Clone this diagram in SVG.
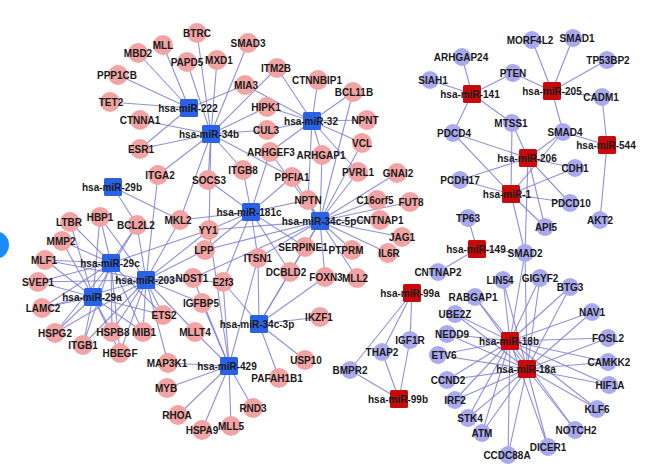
<svg xmlns="http://www.w3.org/2000/svg" width="645" height="470" viewBox="0 0 645 470">
<style>
.e line{stroke:#7c7cd6;stroke-width:1.1;stroke-opacity:.85}
.p circle{fill:#f2a3a3}
.v circle{fill:#a9a9f0}
.b rect{fill:#2a62e6}
.r rect{fill:#c80a0a}
text{font-family:"Liberation Sans",Arial,sans-serif;font-size:10px;font-weight:bold;fill:#1a1a1a;text-anchor:middle}
</style>
<rect width="645" height="470" fill="#fff"/>
<circle cx="-5" cy="245" r="14" fill="#1a8cff"/>
<g id="connectors" class="e">
<line x1="189" y1="108" x2="163" y2="45"/><line x1="189" y1="108" x2="138" y2="53"/><line x1="189" y1="108" x2="118" y2="75"/><line x1="189" y1="108" x2="110" y2="102"/><line x1="189" y1="108" x2="140" y2="149"/><line x1="189" y1="108" x2="245" y2="85"/>
<line x1="211" y1="134" x2="197" y2="33"/><line x1="211" y1="134" x2="187" y2="62"/><line x1="211" y1="134" x2="217" y2="60"/><line x1="211" y1="134" x2="248" y2="43"/><line x1="211" y1="134" x2="277" y2="68"/><line x1="211" y1="134" x2="267" y2="107"/><line x1="211" y1="134" x2="267" y2="130"/><line x1="211" y1="134" x2="140" y2="120"/><line x1="211" y1="134" x2="140" y2="149"/><line x1="211" y1="134" x2="158" y2="175"/><line x1="211" y1="134" x2="208" y2="180"/><line x1="211" y1="134" x2="243" y2="170"/><line x1="211" y1="134" x2="292" y2="177"/><line x1="211" y1="134" x2="209" y2="230"/><line x1="211" y1="134" x2="180" y2="220"/>
<line x1="312" y1="121" x2="318" y2="80"/><line x1="312" y1="121" x2="353" y2="92"/><line x1="312" y1="121" x2="367" y2="120"/><line x1="312" y1="121" x2="362" y2="143"/><line x1="312" y1="121" x2="267" y2="107"/><line x1="312" y1="121" x2="267" y2="130"/><line x1="312" y1="121" x2="277" y2="68"/><line x1="312" y1="121" x2="245" y2="85"/><line x1="312" y1="121" x2="322" y2="155"/><line x1="312" y1="121" x2="270" y2="152"/><line x1="312" y1="121" x2="358" y2="172"/><line x1="312" y1="121" x2="308" y2="200"/>
<line x1="251" y1="212" x2="243" y2="170"/><line x1="251" y1="212" x2="270" y2="152"/><line x1="251" y1="212" x2="292" y2="177"/><line x1="251" y1="212" x2="308" y2="200"/><line x1="251" y1="212" x2="208" y2="180"/><line x1="251" y1="212" x2="209" y2="230"/><line x1="251" y1="212" x2="205" y2="250"/><line x1="251" y1="212" x2="258" y2="258"/><line x1="251" y1="212" x2="290" y2="272"/><line x1="251" y1="212" x2="305" y2="247"/><line x1="251" y1="212" x2="223" y2="282"/><line x1="251" y1="212" x2="180" y2="220"/>
<line x1="320" y1="221" x2="322" y2="155"/><line x1="320" y1="221" x2="362" y2="143"/><line x1="320" y1="221" x2="353" y2="92"/><line x1="320" y1="221" x2="358" y2="172"/><line x1="320" y1="221" x2="397" y2="173"/><line x1="320" y1="221" x2="377" y2="200"/><line x1="320" y1="221" x2="410" y2="202"/><line x1="320" y1="221" x2="380" y2="220"/><line x1="320" y1="221" x2="402" y2="237"/><line x1="320" y1="221" x2="388" y2="253"/><line x1="320" y1="221" x2="352" y2="250"/><line x1="320" y1="221" x2="357" y2="278"/><line x1="320" y1="221" x2="325" y2="277"/><line x1="320" y1="221" x2="305" y2="247"/><line x1="320" y1="221" x2="290" y2="272"/><line x1="320" y1="221" x2="258" y2="258"/><line x1="320" y1="221" x2="308" y2="200"/><line x1="320" y1="221" x2="292" y2="177"/><line x1="320" y1="221" x2="270" y2="152"/><line x1="320" y1="221" x2="209" y2="230"/><line x1="320" y1="221" x2="193" y2="278"/><line x1="320" y1="221" x2="205" y2="250"/>
<line x1="259" y1="324" x2="320" y2="317"/><line x1="259" y1="324" x2="305" y2="360"/><line x1="259" y1="324" x2="279" y2="378"/><line x1="259" y1="324" x2="223" y2="282"/><line x1="259" y1="324" x2="258" y2="258"/><line x1="259" y1="324" x2="290" y2="272"/><line x1="259" y1="324" x2="325" y2="277"/><line x1="259" y1="324" x2="305" y2="247"/>
<line x1="229" y1="366" x2="168" y2="363"/><line x1="229" y1="366" x2="167" y2="388"/><line x1="229" y1="366" x2="178" y2="415"/><line x1="229" y1="366" x2="202" y2="430"/><line x1="229" y1="366" x2="231" y2="426"/><line x1="229" y1="366" x2="253" y2="408"/><line x1="229" y1="366" x2="202" y2="303"/><line x1="229" y1="366" x2="195" y2="332"/><line x1="229" y1="366" x2="223" y2="282"/><line x1="229" y1="366" x2="258" y2="258"/><line x1="229" y1="366" x2="193" y2="278"/><line x1="229" y1="366" x2="209" y2="230"/>
<line x1="146" y1="280" x2="158" y2="175"/><line x1="146" y1="280" x2="137" y2="225"/><line x1="146" y1="280" x2="180" y2="220"/><line x1="146" y1="280" x2="209" y2="230"/><line x1="146" y1="280" x2="205" y2="250"/><line x1="146" y1="280" x2="193" y2="278"/><line x1="146" y1="280" x2="223" y2="282"/><line x1="146" y1="280" x2="202" y2="303"/><line x1="146" y1="280" x2="195" y2="332"/><line x1="146" y1="280" x2="163" y2="315"/><line x1="146" y1="280" x2="168" y2="363"/><line x1="146" y1="280" x2="143" y2="332"/><line x1="146" y1="280" x2="112" y2="332"/><line x1="146" y1="280" x2="120" y2="353"/><line x1="146" y1="280" x2="83" y2="345"/><line x1="146" y1="280" x2="55" y2="333"/><line x1="146" y1="280" x2="42" y2="308"/><line x1="146" y1="280" x2="38" y2="282"/><line x1="146" y1="280" x2="45" y2="260"/><line x1="146" y1="280" x2="100" y2="217"/>
<line x1="111" y1="263" x2="100" y2="217"/><line x1="111" y1="263" x2="70" y2="222"/><line x1="111" y1="263" x2="62" y2="241"/><line x1="111" y1="263" x2="45" y2="260"/><line x1="111" y1="263" x2="38" y2="282"/><line x1="111" y1="263" x2="42" y2="308"/><line x1="111" y1="263" x2="55" y2="333"/><line x1="111" y1="263" x2="83" y2="345"/><line x1="111" y1="263" x2="112" y2="332"/><line x1="111" y1="263" x2="120" y2="353"/><line x1="111" y1="263" x2="143" y2="332"/><line x1="111" y1="263" x2="137" y2="225"/><line x1="111" y1="263" x2="209" y2="230"/><line x1="111" y1="263" x2="163" y2="315"/>
<line x1="93" y1="297" x2="70" y2="222"/><line x1="93" y1="297" x2="62" y2="241"/><line x1="93" y1="297" x2="45" y2="260"/><line x1="93" y1="297" x2="38" y2="282"/><line x1="93" y1="297" x2="42" y2="308"/><line x1="93" y1="297" x2="55" y2="333"/><line x1="93" y1="297" x2="83" y2="345"/><line x1="93" y1="297" x2="112" y2="332"/><line x1="93" y1="297" x2="120" y2="353"/><line x1="93" y1="297" x2="100" y2="217"/><line x1="93" y1="297" x2="137" y2="225"/><line x1="93" y1="297" x2="143" y2="332"/><line x1="93" y1="297" x2="163" y2="315"/>
<line x1="113" y1="187" x2="137" y2="225"/><line x1="113" y1="187" x2="180" y2="220"/>
<line x1="472" y1="94" x2="462" y2="57"/><line x1="472" y1="94" x2="430" y2="80"/><line x1="472" y1="94" x2="513" y2="73"/><line x1="472" y1="94" x2="512" y2="123"/><line x1="472" y1="94" x2="453" y2="133"/>
<line x1="552" y1="91" x2="532" y2="40"/><line x1="552" y1="91" x2="573" y2="38"/><line x1="552" y1="91" x2="607" y2="60"/><line x1="552" y1="91" x2="513" y2="73"/><line x1="552" y1="91" x2="602" y2="97"/><line x1="552" y1="91" x2="563" y2="132"/>
<line x1="607" y1="145" x2="602" y2="97"/><line x1="607" y1="145" x2="563" y2="132"/><line x1="607" y1="145" x2="600" y2="220"/>
<line x1="528" y1="158" x2="512" y2="123"/><line x1="528" y1="158" x2="453" y2="133"/><line x1="528" y1="158" x2="563" y2="132"/><line x1="528" y1="158" x2="575" y2="168"/><line x1="528" y1="158" x2="460" y2="180"/><line x1="528" y1="158" x2="570" y2="203"/><line x1="528" y1="158" x2="545" y2="227"/><line x1="528" y1="158" x2="525" y2="253"/>
<line x1="511" y1="194" x2="453" y2="133"/><line x1="511" y1="194" x2="512" y2="123"/><line x1="511" y1="194" x2="563" y2="132"/><line x1="511" y1="194" x2="575" y2="168"/><line x1="511" y1="194" x2="460" y2="180"/><line x1="511" y1="194" x2="570" y2="203"/><line x1="511" y1="194" x2="545" y2="227"/><line x1="511" y1="194" x2="525" y2="253"/>
<line x1="477" y1="249" x2="468" y2="218"/><line x1="477" y1="249" x2="525" y2="253"/><line x1="477" y1="249" x2="438" y2="272"/>
<line x1="412" y1="293" x2="410" y2="340"/><line x1="412" y1="293" x2="382" y2="352"/><line x1="412" y1="293" x2="350" y2="370"/>
<line x1="399" y1="399" x2="410" y2="340"/><line x1="399" y1="399" x2="382" y2="352"/><line x1="399" y1="399" x2="350" y2="370"/>
<line x1="510" y1="341" x2="503" y2="280"/><line x1="510" y1="341" x2="540" y2="278"/><line x1="510" y1="341" x2="570" y2="287"/><line x1="510" y1="341" x2="475" y2="297"/><line x1="510" y1="341" x2="592" y2="312"/><line x1="510" y1="341" x2="455" y2="314"/><line x1="510" y1="341" x2="447" y2="334"/><line x1="510" y1="341" x2="608" y2="338"/><line x1="510" y1="341" x2="438" y2="355"/><line x1="510" y1="341" x2="608" y2="362"/><line x1="510" y1="341" x2="447" y2="380"/><line x1="510" y1="341" x2="609" y2="385"/><line x1="510" y1="341" x2="455" y2="400"/><line x1="510" y1="341" x2="597" y2="409"/><line x1="510" y1="341" x2="468" y2="418"/><line x1="510" y1="341" x2="482" y2="433"/><line x1="510" y1="341" x2="575" y2="430"/><line x1="510" y1="341" x2="548" y2="447"/><line x1="510" y1="341" x2="508" y2="455"/><line x1="510" y1="341" x2="525" y2="253"/>
<line x1="527" y1="369" x2="503" y2="280"/><line x1="527" y1="369" x2="540" y2="278"/><line x1="527" y1="369" x2="570" y2="287"/><line x1="527" y1="369" x2="475" y2="297"/><line x1="527" y1="369" x2="592" y2="312"/><line x1="527" y1="369" x2="455" y2="314"/><line x1="527" y1="369" x2="447" y2="334"/><line x1="527" y1="369" x2="608" y2="338"/><line x1="527" y1="369" x2="438" y2="355"/><line x1="527" y1="369" x2="608" y2="362"/><line x1="527" y1="369" x2="447" y2="380"/><line x1="527" y1="369" x2="609" y2="385"/><line x1="527" y1="369" x2="455" y2="400"/><line x1="527" y1="369" x2="597" y2="409"/><line x1="527" y1="369" x2="468" y2="418"/><line x1="527" y1="369" x2="482" y2="433"/><line x1="527" y1="369" x2="575" y2="430"/><line x1="527" y1="369" x2="548" y2="447"/><line x1="527" y1="369" x2="508" y2="455"/><line x1="527" y1="369" x2="525" y2="253"/>
</g>
<g id="genes-pink" class="p">
<g id="n-BTRC"><circle cx="197" cy="33" r="10"/><text x="197" y="37">BTRC</text></g>
<g id="n-MLL"><circle cx="163" cy="45" r="10"/><text x="163" y="49">MLL</text></g>
<g id="n-MBD2"><circle cx="138" cy="53" r="10"/><text x="138" y="57">MBD2</text></g>
<g id="n-PAPD5"><circle cx="187" cy="62" r="10"/><text x="187" y="66">PAPD5</text></g>
<g id="n-MXD1"><circle cx="217" cy="60" r="10"/><text x="219" y="64">MXD1</text></g>
<g id="n-PPP1CB"><circle cx="118" cy="75" r="10"/><text x="117" y="79">PPP1CB</text></g>
<g id="n-TET2"><circle cx="110" cy="102" r="10"/><text x="111" y="106">TET2</text></g>
<g id="n-CTNNA1"><circle cx="140" cy="120" r="10"/><text x="140" y="124">CTNNA1</text></g>
<g id="n-ESR1"><circle cx="140" cy="149" r="10"/><text x="141" y="153">ESR1</text></g>
<g id="n-SMAD3"><circle cx="248" cy="43" r="10"/><text x="248" y="47">SMAD3</text></g>
<g id="n-ITM2B"><circle cx="277" cy="68" r="10"/><text x="276" y="72">ITM2B</text></g>
<g id="n-MIA3"><circle cx="245" cy="85" r="10"/><text x="246" y="89">MIA3</text></g>
<g id="n-CTNNBIP1"><circle cx="318" cy="80" r="10"/><text x="317" y="84">CTNNBIP1</text></g>
<g id="n-BCL11B"><circle cx="353" cy="92" r="10"/><text x="354" y="96">BCL11B</text></g>
<g id="n-HIPK1"><circle cx="267" cy="107" r="10"/><text x="266" y="111">HIPK1</text></g>
<g id="n-NPNT"><circle cx="367" cy="120" r="10"/><text x="365" y="124">NPNT</text></g>
<g id="n-CUL3"><circle cx="267" cy="130" r="10"/><text x="266" y="134">CUL3</text></g>
<g id="n-VCL"><circle cx="362" cy="143" r="10"/><text x="362" y="147">VCL</text></g>
<g id="n-ARHGEF3"><circle cx="270" cy="152" r="10"/><text x="271" y="156">ARHGEF3</text></g>
<g id="n-ARHGAP1"><circle cx="322" cy="155" r="10"/><text x="321" y="159">ARHGAP1</text></g>
<g id="n-ITGB8"><circle cx="243" cy="170" r="10"/><text x="243" y="174">ITGB8</text></g>
<g id="n-PPFIA1"><circle cx="292" cy="177" r="10"/><text x="292" y="181">PPFIA1</text></g>
<g id="n-NPTN"><circle cx="308" cy="200" r="10"/><text x="308" y="204">NPTN</text></g>
<g id="n-SOCS3"><circle cx="208" cy="180" r="10"/><text x="209" y="184">SOCS3</text></g>
<g id="n-ITGA2"><circle cx="158" cy="175" r="10"/><text x="160" y="179">ITGA2</text></g>
<g id="n-PVRL1"><circle cx="358" cy="172" r="10"/><text x="358" y="176">PVRL1</text></g>
<g id="n-GNAI2"><circle cx="397" cy="173" r="10"/><text x="398" y="177">GNAI2</text></g>
<g id="n-C16orf5"><circle cx="377" cy="200" r="10"/><text x="375" y="204">C16orf5</text></g>
<g id="n-FUT8"><circle cx="410" cy="202" r="10"/><text x="411" y="206">FUT8</text></g>
<g id="n-CNTNAP1"><circle cx="380" cy="220" r="10"/><text x="380" y="224">CNTNAP1</text></g>
<g id="n-JAG1"><circle cx="402" cy="237" r="10"/><text x="402" y="241">JAG1</text></g>
<g id="n-IL6R"><circle cx="388" cy="253" r="10"/><text x="389" y="257">IL6R</text></g>
<g id="n-PTPRM"><circle cx="352" cy="250" r="10"/><text x="346" y="254">PTPRM</text></g>
<g id="n-SERPINE1"><circle cx="305" cy="247" r="10"/><text x="303" y="251">SERPINE1</text></g>
<g id="n-ITSN1"><circle cx="258" cy="258" r="10"/><text x="258" y="262">ITSN1</text></g>
<g id="n-DCBLD2"><circle cx="290" cy="272" r="10"/><text x="286" y="276">DCBLD2</text></g>
<g id="n-FOXN3"><circle cx="325" cy="277" r="10"/><text x="326" y="281">FOXN3</text></g>
<g id="n-MLL2"><circle cx="357" cy="278" r="10"/><text x="355" y="282">MLL2</text></g>
<g id="n-E2f3"><circle cx="223" cy="282" r="10"/><text x="223" y="286">E2f3</text></g>
<g id="n-YY1"><circle cx="209" cy="230" r="10"/><text x="208" y="234">YY1</text></g>
<g id="n-MKL2"><circle cx="180" cy="220" r="10"/><text x="178" y="224">MKL2</text></g>
<g id="n-LPP"><circle cx="205" cy="250" r="10"/><text x="204" y="254">LPP</text></g>
<g id="n-NDST1"><circle cx="193" cy="278" r="10"/><text x="192" y="282">NDST1</text></g>
<g id="n-IGFBP5"><circle cx="202" cy="303" r="10"/><text x="201" y="307">IGFBP5</text></g>
<g id="n-BCL2L2"><circle cx="137" cy="225" r="10"/><text x="136" y="229">BCL2L2</text></g>
<g id="n-HBP1"><circle cx="100" cy="217" r="10"/><text x="100" y="221">HBP1</text></g>
<g id="n-LTBR"><circle cx="70" cy="222" r="10"/><text x="69" y="226">LTBR</text></g>
<g id="n-MMP2"><circle cx="62" cy="241" r="10"/><text x="61" y="245">MMP2</text></g>
<g id="n-MLF1"><circle cx="45" cy="260" r="10"/><text x="44" y="264">MLF1</text></g>
<g id="n-SVEP1"><circle cx="38" cy="282" r="10"/><text x="38" y="286">SVEP1</text></g>
<g id="n-LAMC2"><circle cx="42" cy="308" r="10"/><text x="43" y="312">LAMC2</text></g>
<g id="n-HSPG2"><circle cx="55" cy="333" r="10"/><text x="55" y="337">HSPG2</text></g>
<g id="n-ITGB1"><circle cx="83" cy="345" r="10"/><text x="83" y="349">ITGB1</text></g>
<g id="n-HSPB8"><circle cx="112" cy="332" r="10"/><text x="113" y="336">HSPB8</text></g>
<g id="n-MIB1"><circle cx="143" cy="332" r="10"/><text x="144" y="336">MIB1</text></g>
<g id="n-HBEGF"><circle cx="120" cy="353" r="10"/><text x="120" y="357">HBEGF</text></g>
<g id="n-ETS2"><circle cx="163" cy="315" r="10"/><text x="164" y="319">ETS2</text></g>
<g id="n-MLLT4"><circle cx="195" cy="332" r="10"/><text x="195" y="336">MLLT4</text></g>
<g id="n-MAP3K1"><circle cx="168" cy="363" r="10"/><text x="167" y="367">MAP3K1</text></g>
<g id="n-MYB"><circle cx="167" cy="388" r="10"/><text x="166" y="392">MYB</text></g>
<g id="n-RHOA"><circle cx="178" cy="415" r="10"/><text x="177" y="419">RHOA</text></g>
<g id="n-HSPA9"><circle cx="202" cy="430" r="10"/><text x="202" y="434">HSPA9</text></g>
<g id="n-MLL5"><circle cx="231" cy="426" r="10"/><text x="231" y="430">MLL5</text></g>
<g id="n-RND3"><circle cx="253" cy="408" r="10"/><text x="253" y="412">RND3</text></g>
<g id="n-PAFAH1B1"><circle cx="279" cy="378" r="10"/><text x="277" y="382">PAFAH1B1</text></g>
<g id="n-USP10"><circle cx="305" cy="360" r="10"/><text x="306" y="364">USP10</text></g>
<g id="n-IKZF1"><circle cx="320" cy="317" r="10"/><text x="319" y="321">IKZF1</text></g>
</g>
<g id="genes-lavender" class="v">
<g id="n-ARHGAP24"><circle cx="462" cy="57" r="9"/><text x="461" y="61">ARHGAP24</text></g>
<g id="n-SIAH1"><circle cx="430" cy="80" r="9"/><text x="433" y="84">SIAH1</text></g>
<g id="n-PTEN"><circle cx="513" cy="73" r="9"/><text x="513" y="77">PTEN</text></g>
<g id="n-MORF4L2"><circle cx="532" cy="40" r="9"/><text x="530" y="44">MORF4L2</text></g>
<g id="n-SMAD1"><circle cx="573" cy="38" r="9"/><text x="577" y="42">SMAD1</text></g>
<g id="n-TP53BP2"><circle cx="607" cy="60" r="9"/><text x="608" y="64">TP53BP2</text></g>
<g id="n-CADM1"><circle cx="602" cy="97" r="9"/><text x="601" y="101">CADM1</text></g>
<g id="n-MTSS1"><circle cx="512" cy="123" r="9"/><text x="511" y="127">MTSS1</text></g>
<g id="n-PDCD4"><circle cx="453" cy="133" r="9"/><text x="454" y="137">PDCD4</text></g>
<g id="n-SMAD4"><circle cx="563" cy="132" r="9"/><text x="565" y="136">SMAD4</text></g>
<g id="n-CDH1"><circle cx="575" cy="168" r="9"/><text x="575" y="172">CDH1</text></g>
<g id="n-PCDH17"><circle cx="460" cy="180" r="9"/><text x="460" y="184">PCDH17</text></g>
<g id="n-PDCD10"><circle cx="570" cy="203" r="9"/><text x="571" y="207">PDCD10</text></g>
<g id="n-API5"><circle cx="545" cy="227" r="9"/><text x="546" y="231">API5</text></g>
<g id="n-AKT2"><circle cx="600" cy="220" r="9"/><text x="600" y="224">AKT2</text></g>
<g id="n-TP63"><circle cx="468" cy="218" r="9"/><text x="468" y="222">TP63</text></g>
<g id="n-SMAD2"><circle cx="525" cy="253" r="9"/><text x="525" y="257">SMAD2</text></g>
<g id="n-CNTNAP2"><circle cx="438" cy="272" r="9"/><text x="438" y="276">CNTNAP2</text></g>
<g id="n-LIN54"><circle cx="503" cy="280" r="9"/><text x="500" y="284">LIN54</text></g>
<g id="n-GIGYF2"><circle cx="540" cy="278" r="9"/><text x="540" y="282">GIGYF2</text></g>
<g id="n-BTG3"><circle cx="570" cy="287" r="9"/><text x="570" y="291">BTG3</text></g>
<g id="n-RABGAP1"><circle cx="475" cy="297" r="9"/><text x="473" y="301">RABGAP1</text></g>
<g id="n-NAV1"><circle cx="592" cy="312" r="9"/><text x="592" y="316">NAV1</text></g>
<g id="n-UBE2Z"><circle cx="455" cy="314" r="9"/><text x="455" y="318">UBE2Z</text></g>
<g id="n-NEDD9"><circle cx="447" cy="334" r="9"/><text x="452" y="338">NEDD9</text></g>
<g id="n-FOSL2"><circle cx="608" cy="338" r="9"/><text x="608" y="342">FOSL2</text></g>
<g id="n-ETV6"><circle cx="438" cy="355" r="9"/><text x="444" y="359">ETV6</text></g>
<g id="n-CAMKK2"><circle cx="608" cy="362" r="9"/><text x="609" y="366">CAMKK2</text></g>
<g id="n-CCND2"><circle cx="447" cy="380" r="9"/><text x="448" y="384">CCND2</text></g>
<g id="n-HIF1A"><circle cx="609" cy="385" r="9"/><text x="610" y="389">HIF1A</text></g>
<g id="n-IRF2"><circle cx="455" cy="400" r="9"/><text x="455" y="404">IRF2</text></g>
<g id="n-KLF6"><circle cx="597" cy="409" r="9"/><text x="597" y="413">KLF6</text></g>
<g id="n-STK4"><circle cx="468" cy="418" r="9"/><text x="470" y="422">STK4</text></g>
<g id="n-ATM"><circle cx="482" cy="433" r="9"/><text x="482" y="437">ATM</text></g>
<g id="n-NOTCH2"><circle cx="575" cy="430" r="9"/><text x="576" y="434">NOTCH2</text></g>
<g id="n-DICER1"><circle cx="548" cy="447" r="9"/><text x="548" y="451">DICER1</text></g>
<g id="n-CCDC88A"><circle cx="508" cy="455" r="9"/><text x="507" y="459">CCDC88A</text></g>
<g id="n-IGF1R"><circle cx="410" cy="340" r="9"/><text x="410" y="344">IGF1R</text></g>
<g id="n-THAP2"><circle cx="382" cy="352" r="9"/><text x="382" y="356">THAP2</text></g>
<g id="n-BMPR2"><circle cx="350" cy="370" r="9"/><text x="350" y="374">BMPR2</text></g>
</g>
<g id="mirna-blue" class="b">
<g id="n-miR-222"><rect x="180" y="99" width="18" height="18" rx="1.5"/><text x="188" y="112">hsa-miR-222</text></g>
<g id="n-miR-34b"><rect x="202" y="125" width="18" height="18" rx="1.5"/><text x="209" y="138">hsa-miR-34b</text></g>
<g id="n-miR-32"><rect x="303" y="112" width="18" height="18" rx="1.5"/><text x="311" y="125">hsa-miR-32</text></g>
<g id="n-miR-29b"><rect x="104" y="178" width="18" height="18" rx="1.5"/><text x="112" y="191">hsa-miR-29b</text></g>
<g id="n-miR-181c"><rect x="242" y="203" width="18" height="18" rx="1.5"/><text x="249" y="216">hsa-miR-181c</text></g>
<g id="n-miR-34c-5p"><rect x="311" y="212" width="18" height="18" rx="1.5"/><text x="319" y="225">hsa-miR-34c-5p</text></g>
<g id="n-miR-29c"><rect x="102" y="254" width="18" height="18" rx="1.5"/><text x="110" y="267">hsa-miR-29c</text></g>
<g id="n-miR-203"><rect x="137" y="271" width="18" height="18" rx="1.5"/><text x="145" y="284">hsa-miR-203</text></g>
<g id="n-miR-29a"><rect x="84" y="288" width="18" height="18" rx="1.5"/><text x="92" y="301">hsa-miR-29a</text></g>
<g id="n-miR-34c-3p"><rect x="250" y="315" width="18" height="18" rx="1.5"/><text x="257" y="328">hsa-miR-34c-3p</text></g>
<g id="n-miR-429"><rect x="220" y="357" width="18" height="18" rx="1.5"/><text x="227" y="370">hsa-miR-429</text></g>
</g>
<g id="mirna-red" class="r">
<g id="n-miR-141"><rect x="463" y="85" width="18" height="18" rx="1.5"/><text x="470" y="98">hsa-miR-141</text></g>
<g id="n-miR-205"><rect x="543" y="82" width="18" height="18" rx="1.5"/><text x="552" y="95">hsa-miR-205</text></g>
<g id="n-miR-544"><rect x="598" y="136" width="18" height="18" rx="1.5"/><text x="606" y="149">hsa-miR-544</text></g>
<g id="n-miR-206"><rect x="519" y="149" width="18" height="18" rx="1.5"/><text x="527" y="162">hsa-miR-206</text></g>
<g id="n-miR-1"><rect x="502" y="185" width="18" height="18" rx="1.5"/><text x="507" y="198">hsa-miR-1</text></g>
<g id="n-miR-149"><rect x="468" y="240" width="18" height="18" rx="1.5"/><text x="476" y="253">hsa-miR-149</text></g>
<g id="n-miR-99a"><rect x="403" y="284" width="18" height="18" rx="1.5"/><text x="410" y="297">hsa-miR-99a</text></g>
<g id="n-miR-99b"><rect x="390" y="390" width="18" height="18" rx="1.5"/><text x="398" y="403">hsa-miR-99b</text></g>
<g id="n-miR-18b"><rect x="501" y="332" width="18" height="18" rx="1.5"/><text x="509" y="345">hsa-miR-18b</text></g>
<g id="n-miR-18a"><rect x="518" y="360" width="18" height="18" rx="1.5"/><text x="526" y="373">hsa-miR-18a</text></g>
</g>
</svg>
